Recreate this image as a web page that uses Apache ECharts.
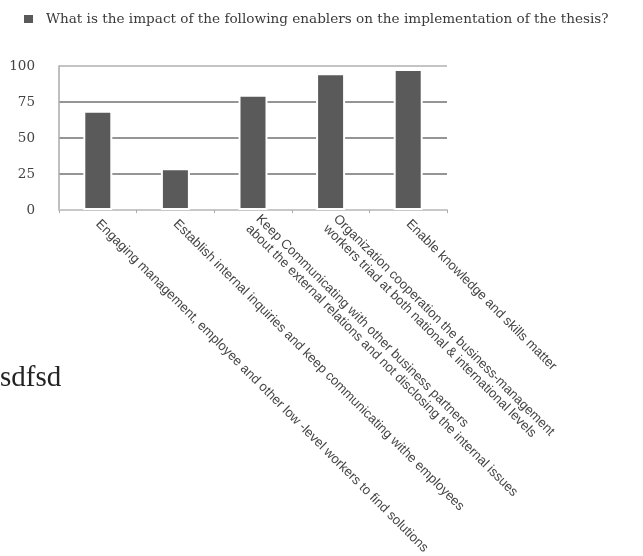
<!DOCTYPE html>
<html>
<head>
<meta charset="utf-8">
<style>html,body{margin:0;padding:0;background:#fff;}#c{width:643px;height:556px;}</style>
<script src="https://cdn.jsdelivr.net/npm/echarts@6/dist/echarts.min.js"></script>
</head>
<body>
<div id="c"></div>
<script>
const seriesName = 'What is the impact of the following enablers on the implementation of the thesis?';
const categories = [
  'Engaging management, employee and other low -level workers to find solutions',
  'Establish internal inquiries and keep communicating withe employees',
  'Keep Communicating with other business partners\nabout the external relations and not disclosing the internal issues',
  'Organization cooperation the business-management\nworkers triad at both national & international levels',
  'Enable knowledge and skills matter'
];
const values = [69, 29, 80, 95, 98];
const yTicks = [0, 25, 50, 75, 100];
const sideNote = 'sdfsd';

const chart = echarts.init(document.getElementById('c'));
chart.setOption({
  animation: false,
  backgroundColor: '#fff',
  legend: {
    show: true, left: 22, top: 12, padding: 0, icon: 'rect', itemWidth: 11, itemHeight: 10, itemGap: 10,
    itemStyle: { color: '#5a5a5a' },
    textStyle: { fontFamily: 'DejaVu Serif', fontSize: 13.6, color: '#3a3a3a', padding: [0, 0, 0, 7] },
    data: [seriesName]
  },
  grid: { left: 59, right: 196, top: 66, bottom: 346, containLabel: false, outerBoundsMode: 'none' },
  xAxis: {
    type: 'category', data: categories,
    axisLine: { lineStyle: { color: '#c8c8c8', width: 2 } },
    axisTick: { show: true, length: 3, lineStyle: { color: '#aaa' } },
    axisLabel: { interval: 0, rotate: -45, margin: 12, fontFamily: 'Liberation Sans', fontSize: 13.2, color: '#444', lineHeight: 14 }
  },
  yAxis: {
    type: 'value', min: 0, max: 100, interval: 25,
    axisLine: { show: true, lineStyle: { color: '#aaa', width: 1.5 } },
    axisTick: { show: false },
    axisLabel: { margin: 24, fontFamily: 'DejaVu Serif', fontSize: 13.5, color: '#444',
      formatter: v => yTicks.includes(v) ? String(v) : '' },
    splitLine: { show: true, lineStyle: { color: ['#b8b8b8', '#959595', '#959595', '#959595', '#c4c4c4'], width: 2 } }
  },
  series: [{
    name: seriesName, type: 'bar', data: values, barWidth: 29,
    itemStyle: { color: '#5a5a5a', borderColor: '#fff', borderWidth: 2 }
  }],
  graphic: [{
    type: 'text', left: 0, top: 364,
    style: { text: sideNote, font: '29px "Liberation Serif"', fill: '#222' }
  }]
});
</script>
</body>
</html>
